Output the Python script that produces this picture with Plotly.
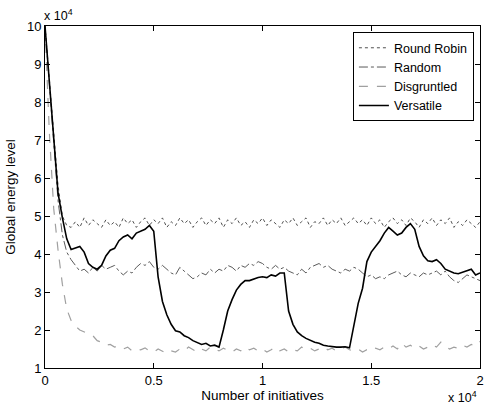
import numpy as np
import plotly.graph_objects as go

# energy values, in units of 1e4, one every 200 initiatives
versatile = [
    10.0, 8.5, 7.0, 5.6, 4.95, 4.4, 4.12, 4.15, 4.2, 4.05,
    3.75, 3.65, 3.6, 3.7, 3.95, 4.1, 4.15, 4.35, 4.45, 4.5,
    4.4, 4.55, 4.6, 4.65, 4.75, 4.6, 3.4, 2.75, 2.4, 2.15,
    1.98, 1.95, 1.85, 1.8, 1.72, 1.68, 1.62, 1.65, 1.58, 1.6,
    1.55, 2.0, 2.5, 2.8, 3.05, 3.2, 3.3, 3.3, 3.35, 3.38,
    3.4, 3.38, 3.45, 3.42, 3.5, 3.5, 2.5, 2.15, 1.95, 1.85,
    1.78, 1.72, 1.68, 1.65, 1.6, 1.58, 1.56, 1.55, 1.55, 1.56,
    1.53, 2.1, 2.7, 3.1, 3.8, 4.05, 4.2, 4.35, 4.55, 4.7,
    4.6, 4.5, 4.55, 4.7, 4.8, 4.65, 4.2, 3.95, 3.82, 3.8,
    3.85, 3.75, 3.6, 3.55, 3.5, 3.48, 3.52, 3.55, 3.6, 3.45,
    3.5,
]

round_robin = [
    10.0, 8.6, 7.1, 5.8, 5.0, 4.75, 4.7, 4.85, 4.7, 4.95,
    4.75, 4.9, 4.8, 4.7, 4.9, 4.75, 4.85, 4.7, 4.95, 4.8,
    4.9, 4.7, 4.85, 4.95, 4.75, 4.9, 4.8, 4.95, 4.7, 4.85,
    4.75, 4.95, 4.8, 4.9, 4.7, 4.85, 4.95, 4.75, 4.9, 4.8,
    4.95, 4.7, 4.9, 4.8, 4.95, 4.75, 4.85, 4.7, 4.9, 4.8,
    4.95, 4.75, 4.9, 4.8, 4.7, 4.9, 4.8, 4.95, 4.75, 4.85,
    4.95, 4.7, 4.85, 4.8, 4.95, 4.75, 4.9, 4.8, 4.95, 4.75,
    4.85, 4.95, 4.8, 4.9, 4.75, 4.95, 4.8, 4.9, 4.7, 4.85,
    4.95, 4.8, 4.9, 4.75, 4.95, 4.85, 4.7, 4.9, 4.8, 4.95,
    4.75, 4.9, 4.8, 4.95, 4.7, 4.85, 4.75, 4.9, 4.8, 4.7,
    4.85,
]

random_ = [
    10.0, 8.5, 6.9, 5.4, 4.5, 4.05, 3.85, 3.7, 3.55, 3.6,
    3.5, 3.65, 3.55, 3.7, 3.6, 3.65, 3.7, 3.55, 3.45, 3.55,
    3.5, 3.65, 3.75, 3.7, 3.8, 3.65, 3.6, 3.7, 3.6, 3.5,
    3.45, 3.65, 3.55, 3.45, 3.35, 3.4, 3.5, 3.45, 3.6, 3.5,
    3.6, 3.55, 3.7, 3.65, 3.55, 3.7, 3.65, 3.75, 3.7, 3.8,
    3.75, 3.65, 3.6, 3.7, 3.6, 3.65, 3.55, 3.5, 3.45, 3.6,
    3.5, 3.65, 3.7, 3.75, 3.65, 3.7, 3.6, 3.55, 3.5, 3.6,
    3.55, 3.65, 3.6, 3.5, 3.4, 3.45, 3.35, 3.4, 3.35, 3.45,
    3.5, 3.55, 3.45, 3.4, 3.5, 3.45, 3.4, 3.5, 3.45, 3.5,
    3.55, 3.45, 3.55, 3.4, 3.3, 3.25, 3.35, 3.45, 3.4, 3.35,
    3.3,
]

disgruntled = [
    10.0, 7.2, 5.2, 4.1, 3.2, 2.55, 2.25, 2.1, 2.0, 1.95,
    1.88, 1.85, 1.72, 1.68, 1.6, 1.62, 1.55, 1.58, 1.5, 1.55,
    1.45, 1.5, 1.48, 1.53, 1.45, 1.42, 1.5, 1.45, 1.38, 1.45,
    1.42, 1.5, 1.45, 1.55, 1.48, 1.42, 1.5, 1.45, 1.55, 1.5,
    1.45, 1.52, 1.48, 1.42, 1.5, 1.45, 1.55, 1.48, 1.52, 1.45,
    1.5, 1.42, 1.48, 1.55, 1.45, 1.5, 1.42, 1.48, 1.45, 1.55,
    1.48, 1.52, 1.45, 1.5, 1.55, 1.48, 1.52, 1.45, 1.5, 1.55,
    1.48, 1.45, 1.5, 1.42, 1.48, 1.45, 1.52, 1.48, 1.55, 1.5,
    1.58, 1.5, 1.65, 1.55, 1.6, 1.52, 1.58, 1.5, 1.55, 1.62,
    1.55, 1.68, 1.58, 1.5, 1.55, 1.52, 1.6, 1.55, 1.62, 1.58,
    1.7,
]

initiatives = np.arange(0, 20001, 200)

xticks = [0, 5000, 10000, 15000, 20000]
xlabels = ["0", "0.5", "1", "1.5", "2"]
yticks = list(range(1, 11))

fnt = "Liberation Sans, Arial, sans-serif"

fig = go.Figure()
fig.add_trace(go.Scatter(x=initiatives, y=round_robin, mode="lines", name="Round Robin",
                         line=dict(color="#505050", width=1, dash="dot")))
fig.add_trace(go.Scatter(x=initiatives, y=random_, mode="lines", name="Random",
                         line=dict(color="#5a5a5a", width=1, dash="dashdot")))
fig.add_trace(go.Scatter(x=initiatives, y=disgruntled, mode="lines", name="Disgruntled",
                         line=dict(color="#a0a0a0", width=1.2, dash="dash")))
fig.add_trace(go.Scatter(x=initiatives, y=versatile, mode="lines", name="Versatile",
                         line=dict(color="black", width=1.6)))

axis = dict(showgrid=False, zeroline=False, showline=True, linecolor="black", linewidth=1,
            mirror="ticks", ticks="inside", ticklen=5, tickcolor="black", automargin=False,
            ticklabeloverflow="allow",
            tickfont=dict(family=fnt, size=13, color="black"))

fig.update_layout(
    width=485, height=410,
    margin=dict(l=45, r=5, t=26, b=42),
    paper_bgcolor="white", plot_bgcolor="white",
    font=dict(family=fnt, size=13, color="black"),
    showlegend=True,
    legend=dict(x=0.986, y=0.982, xanchor="right", yanchor="top",
                bgcolor="white", bordercolor="black", borderwidth=1,
                font=dict(family=fnt, size=12.5), tracegroupgap=0,
                itemwidth=30),
    xaxis=dict(axis, range=[0, 20000], tickvals=xticks, ticktext=xlabels,
               title=dict(text="Number of initiatives", standoff=2,
                          font=dict(family=fnt, size=13.5))),
    yaxis=dict(axis, range=[1, 10], tickvals=yticks,
               title=dict(text="Global energy level", standoff=8,
                          font=dict(family=fnt, size=13.5))),
)

fig.add_annotation(text="x 10<sup>4</sup>", xref="paper", yref="paper", x=0.0, y=1.0,
                   xanchor="left", yanchor="bottom", showarrow=False,
                   font=dict(family=fnt, size=12.5), yshift=1, xshift=-3)
fig.add_annotation(text="x 10<sup>4</sup>", xref="paper", yref="paper", x=1.0, y=0.0,
                   xanchor="right", yanchor="top", showarrow=False,
                   font=dict(family=fnt, size=12.5), yshift=-19, xshift=-1)

# drop the default page margin so the 485x410 figure fills the window exactly
fig.write_html("out.html", config={"displayModeBar": False},
               post_script="document.body.style.margin='0';document.body.style.overflow='hidden';")
